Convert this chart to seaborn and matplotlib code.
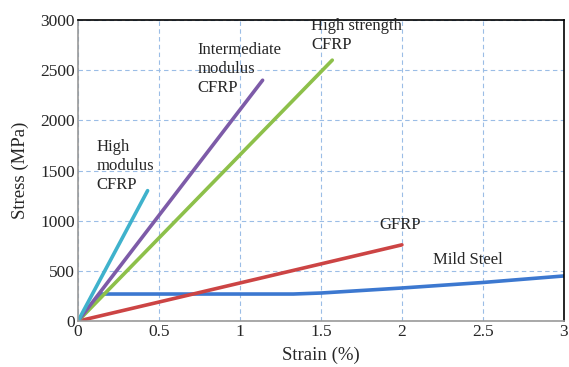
import numpy as np
import pandas as pd
import seaborn as sns
import matplotlib.pyplot as plt

# stress-strain curves, strain in %, stress in MPa
hm_strain = [0, 0.43]
hm_stress = [0, 1300]
im_strain = [0, 1.14]
im_stress = [0, 2400]
hs_strain = [0, 1.57]
hs_stress = [0, 2600]
gf_strain = [0, 2.0]
gf_stress = [0, 760]
ms_strain = [0, 0.14, 0.5, 1.0, 1.33, 1.5, 2.0, 2.5, 3.0]
ms_stress = [0, 270, 270, 270, 270, 280, 330, 385, 450]

series = [
    ("Mild Steel", ms_strain, ms_stress, "#3c78d0"),
    ("GFRP", gf_strain, gf_stress, "#cc4444"),
    ("High strength CFRP", hs_strain, hs_stress, "#8dc04a"),
    ("Intermediate modulus CFRP", im_strain, im_stress, "#7d5ba8"),
    ("High modulus CFRP", hm_strain, hm_stress, "#3fb2cc"),
]

rows = []
for name, xs, ys, c in series:
    for x, y in zip(xs, ys):
        rows.append({"material": name, "strain": x, "stress": y})
df = pd.DataFrame(rows)

sns.set_style("white")
plt.rcParams['font.family'] = ['Liberation Serif', 'DejaVu Serif']

fig = plt.figure(figsize=(5.69, 3.67), dpi=100)
ax = fig.add_axes([0.137, 0.125, 0.854, 0.8205])

palette = {name: c for name, _, _, c in series}
sns.lineplot(data=df, x="strain", y="stress", hue="material", palette=palette,
             linewidth=2.6, legend=False, ax=ax, sort=False, estimator=None)

ax.set_xlim(0, 3)
ax.set_ylim(0, 3000)
ax.set_xticks(np.arange(0, 3.01, 0.5))
ax.set_xticklabels(["0", "0.5", "1", "1.5", "2", "2.5", "3"])
ax.set_yticks(np.arange(0, 3001, 500))
ax.grid(True, color="#9bbde6", linestyle=(0, (4, 3)), linewidth=0.8)
ax.set_axisbelow(True)
ax.tick_params(labelsize=12.5, length=0, pad=2)
ax.set_xlabel("Strain (%)", fontsize=13.5, labelpad=5)
ax.set_ylabel("Stress (MPa)", fontsize=13.5, labelpad=8)

for side in ["left", "bottom"]:
    ax.spines[side].set_color("#999999")
for side in ["top", "right"]:
    ax.spines[side].set_color("black")
for sp in ax.spines.values():
    sp.set_linewidth(1.2)

kw = dict(fontsize=12, ha="left", va="top", linespacing=1.25)
ax.text(0.115, 1810, "High\nmodulus\nCFRP", **kw)
ax.text(0.74, 2780, "Intermediate\nmodulus\nCFRP", **kw)
ax.text(1.44, 3015, "High strength\nCFRP", **kw)
ax.text(1.86, 960, "GFRP", fontsize=12, ha="left", va="center")
ax.text(2.19, 610, "Mild Steel", fontsize=12, ha="left", va="center")

fig.savefig("out.png", dpi=100)
